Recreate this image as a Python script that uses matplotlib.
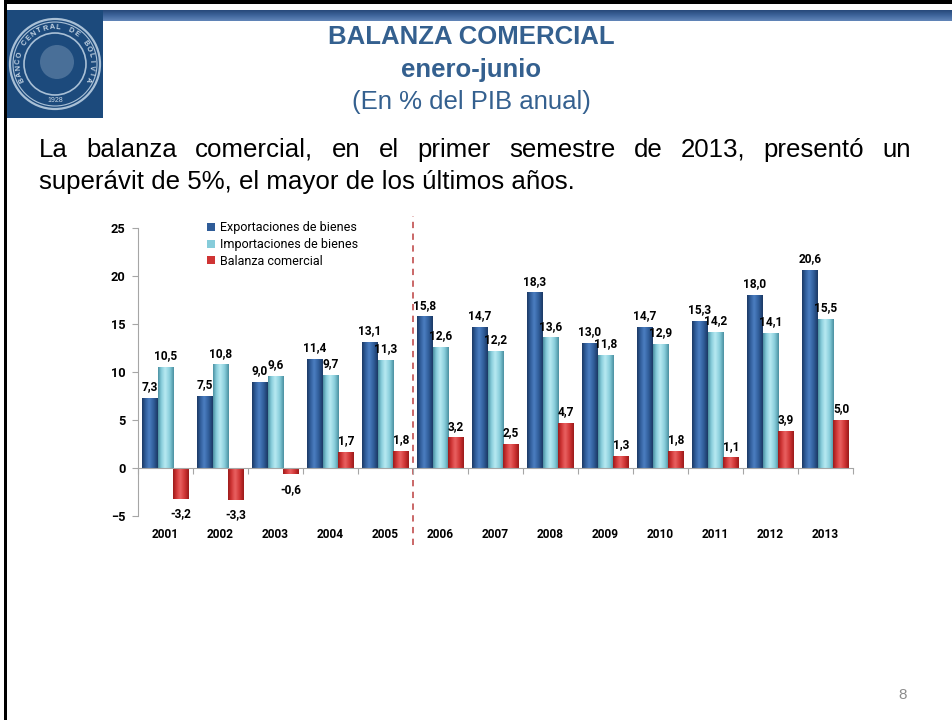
import numpy as np
import matplotlib
matplotlib.use('Agg')
import matplotlib.pyplot as plt
from matplotlib import font_manager as fm
from matplotlib.colors import LinearSegmentedColormap
from matplotlib.patches import Rectangle, Circle
import matplotlib.transforms as mtransforms

# Data (share of annual GDP, january-june)
years = ['2001', '2002', '2003', '2004', '2005', '2006', '2007',
         '2008', '2009', '2010', '2011', '2012', '2013']
exportaciones = [7.3, 7.5, 9.0, 11.4, 13.1, 15.8, 14.7, 18.3, 13.0, 14.7, 15.3, 18.0, 20.6]
importaciones = [10.5, 10.8, 9.6, 9.7, 11.3, 12.6, 12.2, 13.6, 11.8, 12.9, 14.2, 14.1, 15.5]
balanza = [-3.2, -3.3, -0.6, 1.7, 1.8, 3.2, 2.5, 4.7, 1.3, 1.8, 1.1, 3.9, 5.0]
series_names = ['Exportaciones de bienes', 'Importaciones de bienes', 'Balanza comercial']
split_after = 5  # dashed line between 2005 and 2006

installed = {f.name for f in fm.fontManager.ttflist}
narrow = 'Liberation Sans Narrow' if 'Liberation Sans Narrow' in installed else 'Roboto'
sans = 'Liberation Sans'
title_blue = '#34608F'

fig = plt.figure(figsize=(9.52, 7.2), dpi=100)

# slide decoration in pixel coordinates
deco = fig.add_axes([0, 0, 1, 1])
deco.set_xlim(0, 952)
deco.set_ylim(720, 0)
deco.axis('off')

deco.add_patch(Rectangle((4, 0), 948, 3.5, color='black', lw=0))
deco.add_patch(Rectangle((4, 0), 3, 720, color='black', lw=0))

# header bar
bar_cmap = LinearSegmentedColormap.from_list('hdr', ['#27497A', '#3F659C', '#6286B8'])
deco.imshow(np.linspace(0, 1, 32).reshape(-1, 1), extent=(103, 952, 21, 10),
            cmap=bar_cmap, aspect='auto', zorder=1)

# logo
deco.add_patch(Rectangle((7, 10), 96, 108, color='#1C4A7C', lw=0, zorder=2))
cx, cy = 55, 64
for r, lw in [(45, 1.6), (42, 0.8), (31, 1.2)]:
    deco.add_patch(Circle((cx, cy), r, fill=False, ec='#A9C0D6', lw=lw, zorder=3))
ring_text = 'BANCO CENTRAL DE BOLIVIA'
angles = np.linspace(205, -25, len(ring_text))
for ch, a in zip(ring_text, angles):
    rad = np.deg2rad(a)
    deco.text(cx + 36.5 * np.cos(rad), cy - 36.5 * np.sin(rad), ch, fontsize=5.2,
              fontweight='bold', color='#C9D8E6', ha='center', va='center',
              rotation=a - 90, zorder=4, family=sans)
deco.text(cx, cy + 37, '1928', fontsize=5, color='#C9D8E6', ha='center', va='center',
          zorder=4, family=sans)
deco.add_patch(Circle((cx + 2, cy - 2), 17, color='#6F8FB0', alpha=0.55, lw=0, zorder=3))

# titles
deco.text(471, 37, 'BALANZA COMERCIAL', fontsize=18.5, fontweight='bold', color=title_blue,
          ha='center', va='center', family=sans)
deco.text(471, 70, 'enero-junio', fontsize=18.5, fontweight='bold', color=title_blue,
          ha='center', va='center', family=sans)
deco.text(471, 102, '(En % del PIB anual)', fontsize=18.5, color=title_blue,
          ha='center', va='center', family=sans)

# body text, first line justified
line1 = 'La balanza comercial, en el primer semestre de 2013, presentó un'.split()
texts = [deco.text(0, 150, w, fontsize=18.6, ha='left', va='center', family=sans) for w in line1]
deco.text(39, 182, 'superávit de 5%, el mayor de los últimos años.', fontsize=18.6,
          ha='left', va='center', family=sans)
fig.canvas.draw()
renderer = fig.canvas.get_renderer()
widths = [t.get_window_extent(renderer).width for t in texts]
gap = (911 - 39 - sum(widths)) / (len(texts) - 1)
xpos = 39
for t, w in zip(texts, widths):
    t.set_x(xpos)
    xpos += w + gap

deco.text(903, 695, '8', fontsize=11, color='#8C8C8C', ha='center', va='center', family=sans)

# chart
ax = fig.add_axes([138 / 952, 1 - 516 / 720, 715 / 952, 288 / 720])
ax.set_facecolor('none')
x = np.arange(len(years))
w = 0.285

styles = [
    ('#2F5C98', ['#1B3863', '#2F5C98', '#4C7FC2', '#2F5C98', '#1B3863']),
    ('#86CCDA', ['#4A8FA0', '#86CCDA', '#B8EAF2', '#86CCDA', '#4A8FA0']),
    ('#CF3434', ['#9A1A1A', '#CF3434', '#EA6262', '#CF3434', '#9A1A1A']),
]
grad = np.linspace(0, 1, 64).reshape(1, -1)
for k, vals in enumerate([exportaciones, importaciones, balanza]):
    base, stops = styles[k]
    cmap = LinearSegmentedColormap.from_list('c%d' % k, list(zip([0, 0.2, 0.45, 0.75, 1], stops)))
    bars = ax.bar(x + (k - 1) * w, vals, w, color=base, label=series_names[k], zorder=2, lw=0)
    for p in bars:
        bb = p.get_bbox()
        im = ax.imshow(grad, extent=(bb.x0, bb.x1, bb.y0, bb.y1), cmap=cmap,
                       aspect='auto', zorder=2.1, interpolation='bicubic')
        im.set_clip_path(p)
    for xi, v in zip(x + (k - 1) * w, vals):
        txt = ('%.1f' % v).replace('.', ',')
        off = 5.5 if v >= 0 else -13.6
        ax.annotate(txt, xy=(xi, v), xytext=(0, off), textcoords='offset points',
                    ha='center', va='baseline', fontsize=8.6, fontweight='bold',
                    family=narrow, zorder=5)

ax.set_xlim(-0.5, len(years) - 0.5)
ax.set_ylim(-5, 25)
ax.set_yticks(np.arange(-5, 26, 5))
for s in ['top', 'right']:
    ax.spines[s].set_visible(False)
ax.spines['left'].set_color('#A6A6A6')
ax.spines['bottom'].set_color('#A6A6A6')
ax.spines['bottom'].set_position(('data', 0))
ax.set_xticks(np.arange(len(years) + 1) - 0.5)
ax.set_xticklabels([])
ax.tick_params(axis='x', direction='out', length=4, color='#A6A6A6')
ax.tick_params(axis='y', direction='out', length=4, color='#A6A6A6', pad=5)
for lab in ax.get_yticklabels():
    lab.set_fontsize(9.2)
    lab.set_fontweight('bold')
    lab.set_family(narrow)

sec = ax.secondary_xaxis('bottom')
sec.set_xticks(x, labels=years)
sec.tick_params(length=0, pad=9)
sec.spines['bottom'].set_visible(False)
for lab in sec.get_xticklabels():
    lab.set_fontsize(8.6)
    lab.set_fontweight('bold')
    lab.set_family(narrow)

trans = mtransforms.blended_transform_factory(ax.transData, ax.transAxes)
ax.plot([split_after - 0.5, split_after - 0.5], [-0.10, 1.04], transform=trans,
        color='#C65C5C', lw=1.3, ls=(0, (3.5, 3)), clip_on=False, zorder=1)

leg = ax.legend(loc='upper left', bbox_to_anchor=(201 / 952, 1 - 215 / 720),
                bbox_transform=fig.transFigure, frameon=False, handlelength=0.6,
                handleheight=0.6, handletextpad=0.4, labelspacing=0.3, borderpad=0,
                prop={'family': narrow, 'size': 9})
for h, (base, stops) in zip(leg.legend_handles, styles):
    h.set_color(base)

fig.savefig('out.png', dpi=100)
